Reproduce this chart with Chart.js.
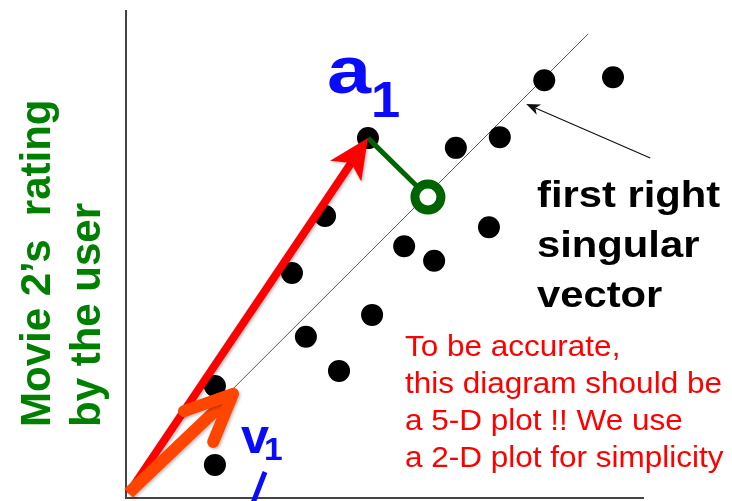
<!DOCTYPE html>
<html>
<head>
<meta charset="utf-8">
<script src="https://cdn.jsdelivr.net/npm/chart.js@4.4.0/dist/chart.umd.min.js"></script>
<style>
  html, body { margin: 0; padding: 0; background: #fff; }
  #wrap { width: 732px; height: 501px; }
</style>
</head>
<body>
<div id="wrap"><canvas id="svd" width="732" height="501"></canvas></div>
<script>
// ratings of each user: movie 1 (x) against movie 2 (y)
const ratingX = [4.68, 6.38, 7.23, 8.09, 9.42, 3.85, 3.21, 5.38, 5.96, 7.02, 3.48, 4.76, 4.12, 1.72, 1.72];
const ratingY = [7.39, 7.19, 7.41, 8.58, 8.64, 5.79, 4.62, 5.17, 4.87, 5.56, 3.31, 3.76, 2.61, 2.30, 0.68];

// vectors, in rating units
const origin = [0.05, 0.1];
const a1 = [ratingX[0], ratingY[0]];   // first user's row
const v1Tip = [2.07, 2.14];            // unit vector along v1
const a1Proj = [5.84, 6.18];           // a1 projected onto v1
const svEnd = [8.94, 9.53];            // end of the singular vector line
const noteTail = [10.14, 6.98];
const noteTip = [7.74, 8.09];
const speckX = [-0.1, 0.8];
const speckY = [8.62, 0.85];

const yTitle = ['Movie 2\u2019s  rating', 'by the user'];
const svNote = ['first right', 'singular', 'vector'];
const redNote = ['To be accurate,', 'this diagram should be', 'a 5-D plot !! We use', 'a 2-D plot for simplicity'];

const FONT = "'Liberation Sans', Arial, sans-serif";
const GREEN = '#008000';
const BLUE = '#0a0aff';

const toPts = (xs, ys) => xs.map((v, i) => ({x: v, y: ys[i]}));
const pt = p => ({x: p[0], y: p[1]});

function stretchText(ctx, str, x, yb, font, color, sx) {
    ctx.save();
    ctx.font = font;
    ctx.fillStyle = color;
    ctx.textAlign = 'left';
    ctx.textBaseline = 'alphabetic';
    ctx.translate(x, yb);
    ctx.scale(sx, 1);
    ctx.fillText(str, 0, 0);
    ctx.restore();
}

// shaft + notched filled head
function solidArrow(ctx, p0, p1, color, width, headLen, halfAngle, notch) {
    const ang = Math.atan2(p1[1] - p0[1], p1[0] - p0[0]);
    const back = ang + Math.PI;
    const w1 = [p1[0] + headLen * Math.cos(back - halfAngle), p1[1] + headLen * Math.sin(back - halfAngle)];
    const w2 = [p1[0] + headLen * Math.cos(back + halfAngle), p1[1] + headLen * Math.sin(back + halfAngle)];
    const n = [p1[0] + notch * Math.cos(back), p1[1] + notch * Math.sin(back)];
    ctx.save();
    ctx.strokeStyle = color;
    ctx.fillStyle = color;
    ctx.lineWidth = width;
    ctx.lineCap = 'butt';
    ctx.beginPath();
    ctx.moveTo(p0[0], p0[1]);
    ctx.lineTo(n[0], n[1]);
    ctx.stroke();
    ctx.beginPath();
    ctx.moveTo(p1[0], p1[1]);
    ctx.lineTo(w1[0], w1[1]);
    ctx.lineTo(n[0], n[1]);
    ctx.lineTo(w2[0], w2[1]);
    ctx.closePath();
    ctx.fill();
    ctx.restore();
}

// thick chevron-style arrow
function chevronArrow(ctx, p0, p1, color, width, wingLen, halfAngle) {
    const ang = Math.atan2(p1[1] - p0[1], p1[0] - p0[0]);
    const back = ang + Math.PI;
    ctx.save();
    ctx.strokeStyle = color;
    ctx.lineWidth = width;
    ctx.lineCap = 'butt';
    ctx.beginPath();
    ctx.moveTo(p0[0], p0[1]);
    ctx.lineTo(p1[0] - 3 * Math.cos(ang), p1[1] - 3 * Math.sin(ang));
    ctx.stroke();
    ctx.lineCap = 'round';
    ctx.lineJoin = 'round';
    ctx.beginPath();
    ctx.moveTo(p1[0] + wingLen * Math.cos(back - halfAngle), p1[1] + wingLen * Math.sin(back - halfAngle));
    ctx.lineTo(p1[0], p1[1]);
    ctx.lineTo(p1[0] + wingLen * Math.cos(back + halfAngle), p1[1] + wingLen * Math.sin(back + halfAngle));
    ctx.stroke();
    ctx.restore();
}

const overlay = {
    id: 'overlay',
    afterDatasetsDraw(chart) {
        const {ctx, scales: {x, y}} = chart;
        const px = p => [x.getPixelForValue(p[0]), y.getPixelForValue(p[1])];
        const o = px(origin);

        // arrows, with a soft drop shadow
        ctx.save();
        ctx.shadowColor = 'rgba(0,0,0,0.25)';
        ctx.shadowBlur = 3;
        ctx.shadowOffsetX = 1.5;
        ctx.shadowOffsetY = 1.5;
        solidArrow(ctx, o, px(a1), '#ff0000', 8, 44, 0.44, 30);
        chevronArrow(ctx, o, px(v1Tip), '#ff4500', 12, 52, 0.42);
        ctx.restore();

        // pointer to the singular vector line
        solidArrow(ctx, px(noteTail), px(noteTip), '#111', 1.2, 15, 0.38, 10);

        // labels
        stretchText(ctx, 'a', 327, 93, `bold 66px ${FONT}`, BLUE, 1.2);
        stretchText(ctx, '1', 371, 117, `bold 50px ${FONT}`, BLUE, 1.05);
        stretchText(ctx, 'v', 241, 453, `bold 48px ${FONT}`, BLUE, 1.05);
        stretchText(ctx, '1', 264, 460, `bold 32px ${FONT}`, BLUE, 1.05);
        ctx.save();
        ctx.strokeStyle = BLUE;
        ctx.lineWidth = 5;
        ctx.beginPath();
        ctx.moveTo(265, 472);
        ctx.lineTo(253, 503);
        ctx.stroke();
        ctx.restore();

        svNote.forEach((s, i) => stretchText(ctx, s, 537, 207 + i * 50, `bold 36px ${FONT}`, '#000', 1.16));
        redNote.forEach((s, i) => stretchText(ctx, s, 405, 356 + i * 37, `30px ${FONT}`, '#ff0000', 1.05));

        // rotated y axis caption, two lines
        yTitle.forEach((s, i) => {
            ctx.save();
            ctx.font = `bold 42px ${FONT}`;
            ctx.fillStyle = GREEN;
            ctx.textBaseline = 'alphabetic';
            ctx.translate(50 + i * 50, 427);
            ctx.rotate(-Math.PI / 2);
            ctx.fillText(s, 0, 0);
            ctx.restore();
        });
    }
};

new Chart(document.getElementById('svd'), {
    type: 'scatter',
    data: {
        datasets: [
            {
                // a1 to its projection
                type: 'line',
                data: [pt(a1), pt(a1Proj)],
                borderColor: '#006400',
                borderWidth: 5,
                pointRadius: 0,
                order: 1
            },
            {
                data: [pt(a1Proj)],
                pointRadius: 13,
                borderWidth: 9,
                borderColor: '#006400',
                backgroundColor: '#ffffff',
                order: 0
            },
            {
                data: toPts(ratingX, ratingY),
                pointRadius: 11,
                borderWidth: 0,
                backgroundColor: '#000000',
                order: 3
            },
            {
                type: 'line',
                data: [pt(origin), pt(svEnd)],
                borderColor: '#555555',
                borderWidth: 1,
                pointRadius: 0,
                order: 4
            },
            {
                data: toPts(speckX, speckY),
                pointRadius: 3,
                borderWidth: 0,
                backgroundColor: '#000000',
                clip: false,
                order: 5
            }
        ]
    },
    options: {
        responsive: false,
        animation: false,
        events: [],
        layout: { autoPadding: false, padding: { left: 126, top: 11, right: 89, bottom: 3 } },
        plugins: { legend: { display: false }, tooltip: { enabled: false } },
        scales: {
            x: {
                type: 'linear', min: 0, max: 10,
                grid: { display: false, drawTicks: false },
                ticks: { display: false },
                border: { display: true, color: '#444', width: 2 }
            },
            y: {
                type: 'linear', min: 0, max: 10,
                grid: { display: false, drawTicks: false },
                ticks: { display: false },
                border: { display: true, color: '#444', width: 2 }
            }
        }
    },
    plugins: [overlay]
});
</script>
</body>
</html>
